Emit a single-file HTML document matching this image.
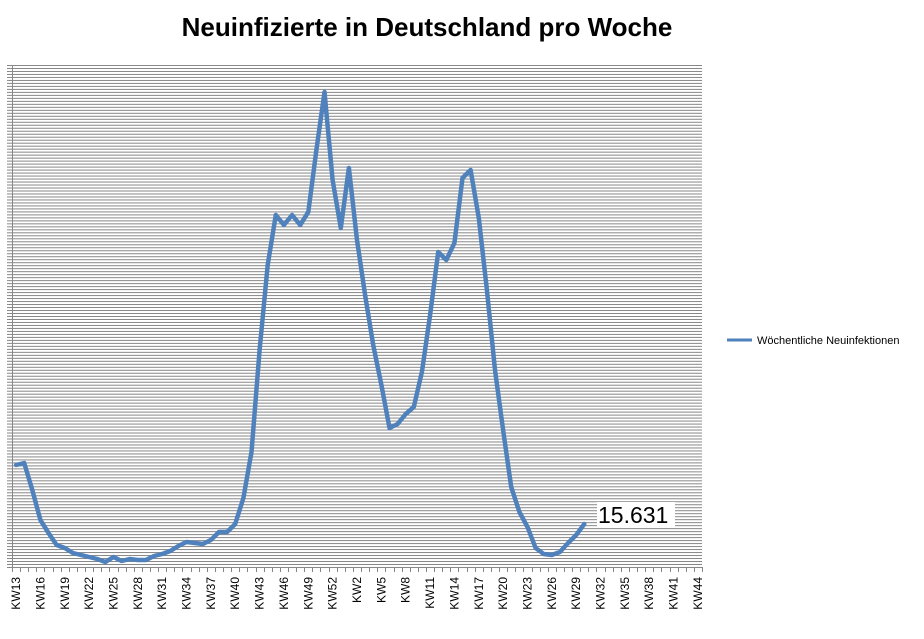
<!DOCTYPE html>
<html><head><meta charset="utf-8"><style>
body{margin:0;background:#fff;width:924px;height:639px;overflow:hidden}
svg{display:block;font-family:"Liberation Sans",sans-serif}
</style></head><body>
<svg width="924" height="639" viewBox="0 0 924 639" xmlns="http://www.w3.org/2000/svg">
<defs>
<pattern id="g" x="0" y="65" width="10" height="2.988" patternUnits="userSpaceOnUse">
<rect x="0" y="0" width="10" height="1" fill="#878787"/>
</pattern>
</defs>
<text x="427" y="36" font-size="26" font-weight="bold" text-anchor="middle" font-family="Liberation Sans, sans-serif">Neuinfizierte in Deutschland pro Woche</text>
<rect x="7" y="65" width="695" height="502" fill="url(#g)"/>
<line x1="12.5" y1="65" x2="12.5" y2="568" stroke="#878787" stroke-width="1"/>
<line x1="7" y1="567.5" x2="702" y2="567.5" stroke="#878787" stroke-width="1"/>
<g id="ticks" stroke="#878787" stroke-width="1"></g>
<g id="labels" font-size="12" fill="#000"></g>
<rect x="597" y="502" width="78" height="25" fill="#fff"/>
<text x="598" y="523" font-size="23">15.631</text>
<polyline id="ln" fill="none" stroke="#4f81bd" stroke-width="4.5" stroke-linejoin="round" stroke-linecap="round" points=""/>
<line x1="727" y1="340" x2="752" y2="340" stroke="#4f81bd" stroke-width="3"/>
<text x="757" y="344" font-size="11">Wöchentliche Neuinfektionen</text>
</svg>
<script>
var ys=[465,463,490,520,533,545,548,553,555,557,559,562,557,561,559,560,560,556,554,551,546,542,543,544,540,532,532,524,498,452,350,265,215,225,215,225,212,150,92,180,228,168,240,295,345,385,428,424,414,407,372,315,252,260,243,178,170,218,290,370,430,487,512,527,548,554,555,552,543,535,524];
var w=690/85,p=[];
for(var i=0;i<ys.length;i++)p.push((12+w*(i+0.5)).toFixed(1)+","+ys[i]);
document.getElementById("ln").setAttribute("points",p.join(" "));
var t="",l="";
for(var i=0;i<=85;i++){var x=Math.round(12+w*i)+0.5;t+='<line x1="'+x+'" y1="567" x2="'+x+'" y2="572"/>';}
for(var i=0;i<85;i+=3){var k=i<41?i+13:i-40;var x=12+w*(i+0.5)+4;l+='<text transform="translate('+x.toFixed(1)+',577) rotate(-90)" text-anchor="end">KW'+k+'</text>';}
var ns="http://www.w3.org/2000/svg";
document.getElementById("ticks").innerHTML=t;
document.getElementById("labels").innerHTML=l;
</script>
</body></html>
